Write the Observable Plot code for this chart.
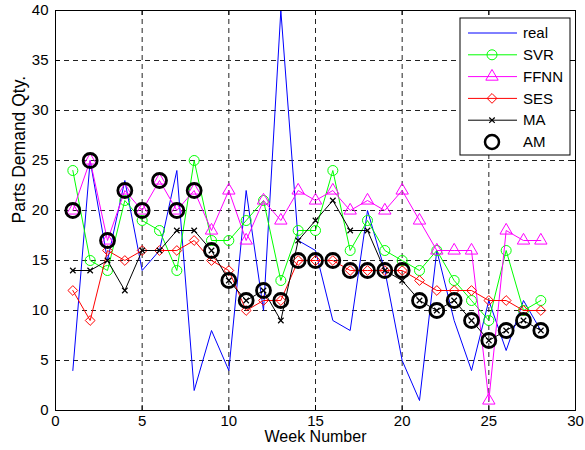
<!DOCTYPE html>
<html><head><meta charset="utf-8">
<script src="https://cdn.jsdelivr.net/npm/d3@7"></script>
<script src="https://cdn.jsdelivr.net/npm/@observablehq/plot@0.6"></script>
<style>
body{margin:0;background:#fff;}
#chart{width:585px;height:450px;}
</style></head><body><div id="chart"></div>
<script>
const weeks = [1,2,3,4,5,6,7,8,9,10,11,12,13,14,15,16,17,18,19,20,21,22,23,24,25,26,27,28];
const real = [4,25,15,23,14,16,24,2,8,4,22,10,40,17,16,9,8,20,14,5,1,16,9,4,11,6,11,8];
const svr  = [24,15,14,21,19,18,14,25,17,17,19,21,13,18,18,24,16,19,16,15,14,16,13,11,9,16,10,11];
const ffnn = [20,25,17,22,20,23,20,22,18,22,17,21,19,22,21,22,20,21,20,22,19,16,16,16,1,18,17,17];
const ses  = [12,9,16,15,16,16,16,17,15,14,10,11,11,15,15,15,14,14,14,14,13,12,12,12,11,11,10,10];
const ma   = [14,14,15,12,16,16,18,18,16,13,11,12,9,17,19,21,18,18,14,13,11,10,11,9,7,8,9,8];
const am   = [20,25,17,22,20,23,20,22,16,13,11,12,11,15,15,15,14,14,14,14,11,10,11,9,7,8,9,8];
const seriesNames = ["real","SVR","FFNN","SES","MA","AM"];
const xTicks = [0,5,10,15,20,25,30];
const yTicks = [0,5,10,15,20,25,30,35,40];
const xLabel = "Week Number";
const yLabel = "Parts Demand Qty.";

const rows = weeks.map((w,i)=>({week:w, real:real[i], svr:svr[i], ffnn:ffnn[i], ses:ses[i], ma:ma[i], am:am[i]}));
const font = "'Liberation Sans', Arial, Helvetica, sans-serif";

const styles = {
  real:{color:"#0000ff", symbol:null, r:0, sw:1},
  SVR:{color:"#00ff00", symbol:"circle", r:5, sw:1},
  FFNN:{color:"#ff00ff", symbol:"triangle", r:4.6, sw:1},
  SES:{color:"#ff0000", symbol:"diamond2", r:4.4, sw:1},
  MA:{color:"#000000", symbol:"times", r:2.6, sw:1.2},
  AM:{color:"#000000", symbol:"circle", r:7, sw:2.8}
};

const chart = Plot.plot({
  width:585, height:450,
  marginLeft:55, marginRight:10, marginTop:10, marginBottom:40,
  style:{fontFamily:font, fontSize:"15px", background:"#fff", color:"#000", overflow:"visible"},
  x:{domain:[0,30]},
  y:{domain:[0,40]},
  marks:[
    Plot.ruleX(xTicks,{x:d=>d, stroke:"#222", strokeWidth:1, strokeDasharray:"5,4"}),
    Plot.ruleY(yTicks,{y:d=>d, stroke:"#222", strokeWidth:1, strokeDasharray:"5,4"}),
    Plot.line(rows,{x:"week", y:"real", stroke:styles.real.color, strokeWidth:1}),
    Plot.line(rows,{x:"week", y:"svr", stroke:styles.SVR.color, strokeWidth:1}),
    Plot.dot(rows,{x:"week", y:"svr", stroke:styles.SVR.color, symbol:"circle", r:styles.SVR.r, fill:"none", strokeWidth:1}),
    Plot.line(rows,{x:"week", y:"ffnn", stroke:styles.FFNN.color, strokeWidth:1}),
    Plot.dot(rows,{x:"week", y:"ffnn", stroke:styles.FFNN.color, symbol:"triangle", r:styles.FFNN.r, fill:"none", strokeWidth:1}),
    Plot.line(rows,{x:"week", y:"ses", stroke:styles.SES.color, strokeWidth:1}),
    Plot.dot(rows,{x:"week", y:"ses", stroke:styles.SES.color, symbol:"diamond2", r:styles.SES.r, fill:"none", strokeWidth:1}),
    Plot.line(rows,{x:"week", y:"ma", stroke:styles.MA.color, strokeWidth:1}),
    Plot.dot(rows,{x:"week", y:"ma", stroke:styles.MA.color, symbol:"times", r:styles.MA.r, strokeWidth:1.2}),
    Plot.dot(rows,{x:"week", y:"am", stroke:styles.AM.color, symbol:"circle", r:styles.AM.r, fill:"none", strokeWidth:styles.AM.sw}),
    Plot.frame({stroke:"#000", strokeWidth:1}),
    Plot.tickX(xTicks,{x:d=>d, insetTop:395, stroke:"#000"}),
    Plot.tickX(xTicks,{x:d=>d, insetBottom:395, stroke:"#000"}),
    Plot.tickY(yTicks,{y:d=>d, insetRight:515, stroke:"#000"}),
    Plot.tickY(yTicks,{y:d=>d, insetLeft:515, stroke:"#000"}),
    Plot.axisX({ticks:xTicks, tickSize:0, tickPadding:5, fontSize:15, label:null}),
    Plot.axisY({ticks:yTicks, tickSize:0, tickPadding:7, fontSize:15, label:null}),
    Plot.text([xLabel],{text:d=>d, frameAnchor:"bottom", dy:31, fontSize:16}),
    Plot.text([yLabel],{text:d=>d, frameAnchor:"left", dx:-36, dy:13, rotate:-90, fontSize:17.5})
  ]
});
document.getElementById("chart").appendChild(chart);

// Legend (inside plot, top right)
const svg = d3.select(chart);
const lg = svg.append("g").attr("font-family", font).attr("font-size", 15).attr("text-anchor","start");
const box = {x:460, y:18, w:110, h:137};
lg.append("rect").attr("x",box.x).attr("y",box.y).attr("width",box.w).attr("height",box.h)
  .attr("fill","#fff").attr("stroke","#000").attr("stroke-width",1);
const symMap = {circle:d3.symbolCircle, triangle:d3.symbolTriangle, diamond2:d3.symbolDiamond2, times:d3.symbolTimes};
seriesNames.forEach((name,i)=>{
  const st = styles[name];
  const cy = box.y + 15 + i*21.8;
  if (name !== "AM") {
    lg.append("line").attr("x1",box.x+8).attr("x2",box.x+57).attr("y1",cy).attr("y2",cy)
      .attr("stroke",st.color).attr("stroke-width",1);
  }
  if (st.symbol) {
    lg.append("path").attr("d", d3.symbol(symMap[st.symbol], Math.PI*st.r*st.r)())
      .attr("transform",`translate(${box.x+32},${cy})`)
      .attr("fill","none").attr("stroke",st.color).attr("stroke-width", name==="AM"?2.5:st.sw);
  }
  lg.append("text").attr("x",box.x+63).attr("y",cy).attr("dy","0.35em").attr("text-anchor","start").text(name);
});
</script>
</body></html>
